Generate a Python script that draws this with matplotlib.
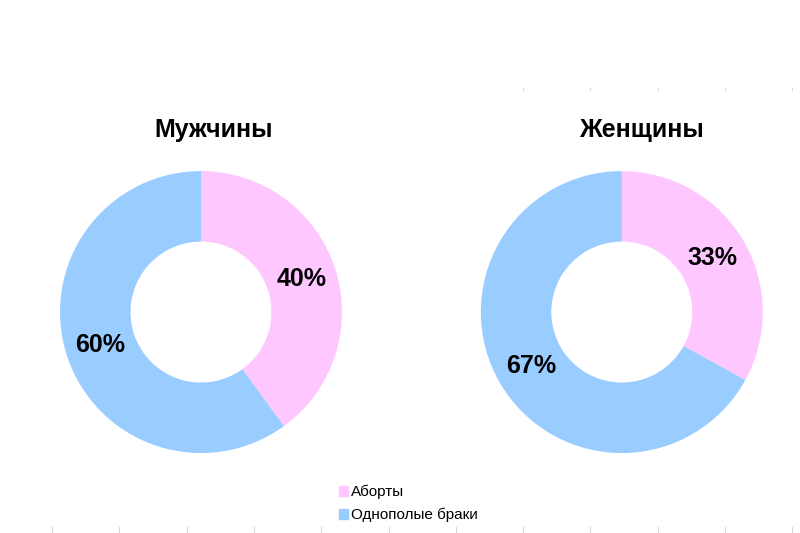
import matplotlib.pyplot as plt
import numpy as np

# Data
categories = ["Аборты", "Однополые браки"]
men_values = [40, 60]
women_values = [33, 67]
titles = ["Мужчины", "Женщины"]
colors = ["#FFC7FF", "#99CCFF"]

plt.rcParams['font.family'] = ['Liberation Sans', 'DejaVu Sans']

fig = plt.figure(figsize=(8, 5.33), dpi=100)

# axes placed to match donut centers
ax_left = fig.add_axes([0.075, 0.150, 0.3525, 0.529])
ax_right = fig.add_axes([0.601, 0.150, 0.3525, 0.529])

for ax, vals, title, tx in [(ax_left, men_values, titles[0], 0.09),
                            (ax_right, women_values, titles[1], 0.14)]:
    wedges, texts, autotexts = ax.pie(
        vals, colors=colors, startangle=90, counterclock=False,
        radius=1, pctdistance=0.75, autopct='%1.0f%%',
        wedgeprops=dict(width=0.5, edgecolor='none'),
        textprops=dict(fontsize=18, fontweight='bold', color='black'))
    ax.set_xlim(-1, 1)
    ax.set_ylim(-1, 1)
    ax.set_aspect('equal')
    ax.text(tx, 1.29, title, ha='center', va='center', fontsize=18,
            fontweight='bold', clip_on=False)

# Legend
handles = [plt.Rectangle((0, 0), 1, 1, color=c) for c in colors]
fig.legend(handles, categories, loc='center', bbox_to_anchor=(0.51, 0.055),
           frameon=False, fontsize=11, handlelength=0.65, handleheight=0.65,
           handletextpad=0.15, labelspacing=0.55)

# faint ruler marks from the screenshot
for x in np.arange(52, 800, 67.3):
    fig.add_artist(plt.Line2D([x / 800, x / 800], [1 - 532 / 533, 1 - 527 / 533],
                              color='#d8d8e4', lw=0.8))
for x in np.arange(523, 800, 67.3):
    fig.add_artist(plt.Line2D([x / 800, x / 800], [1 - 90 / 533, 1 - 88 / 533],
                              color='#d8d8e4', lw=0.8))

fig.savefig("out.png", dpi=100)
